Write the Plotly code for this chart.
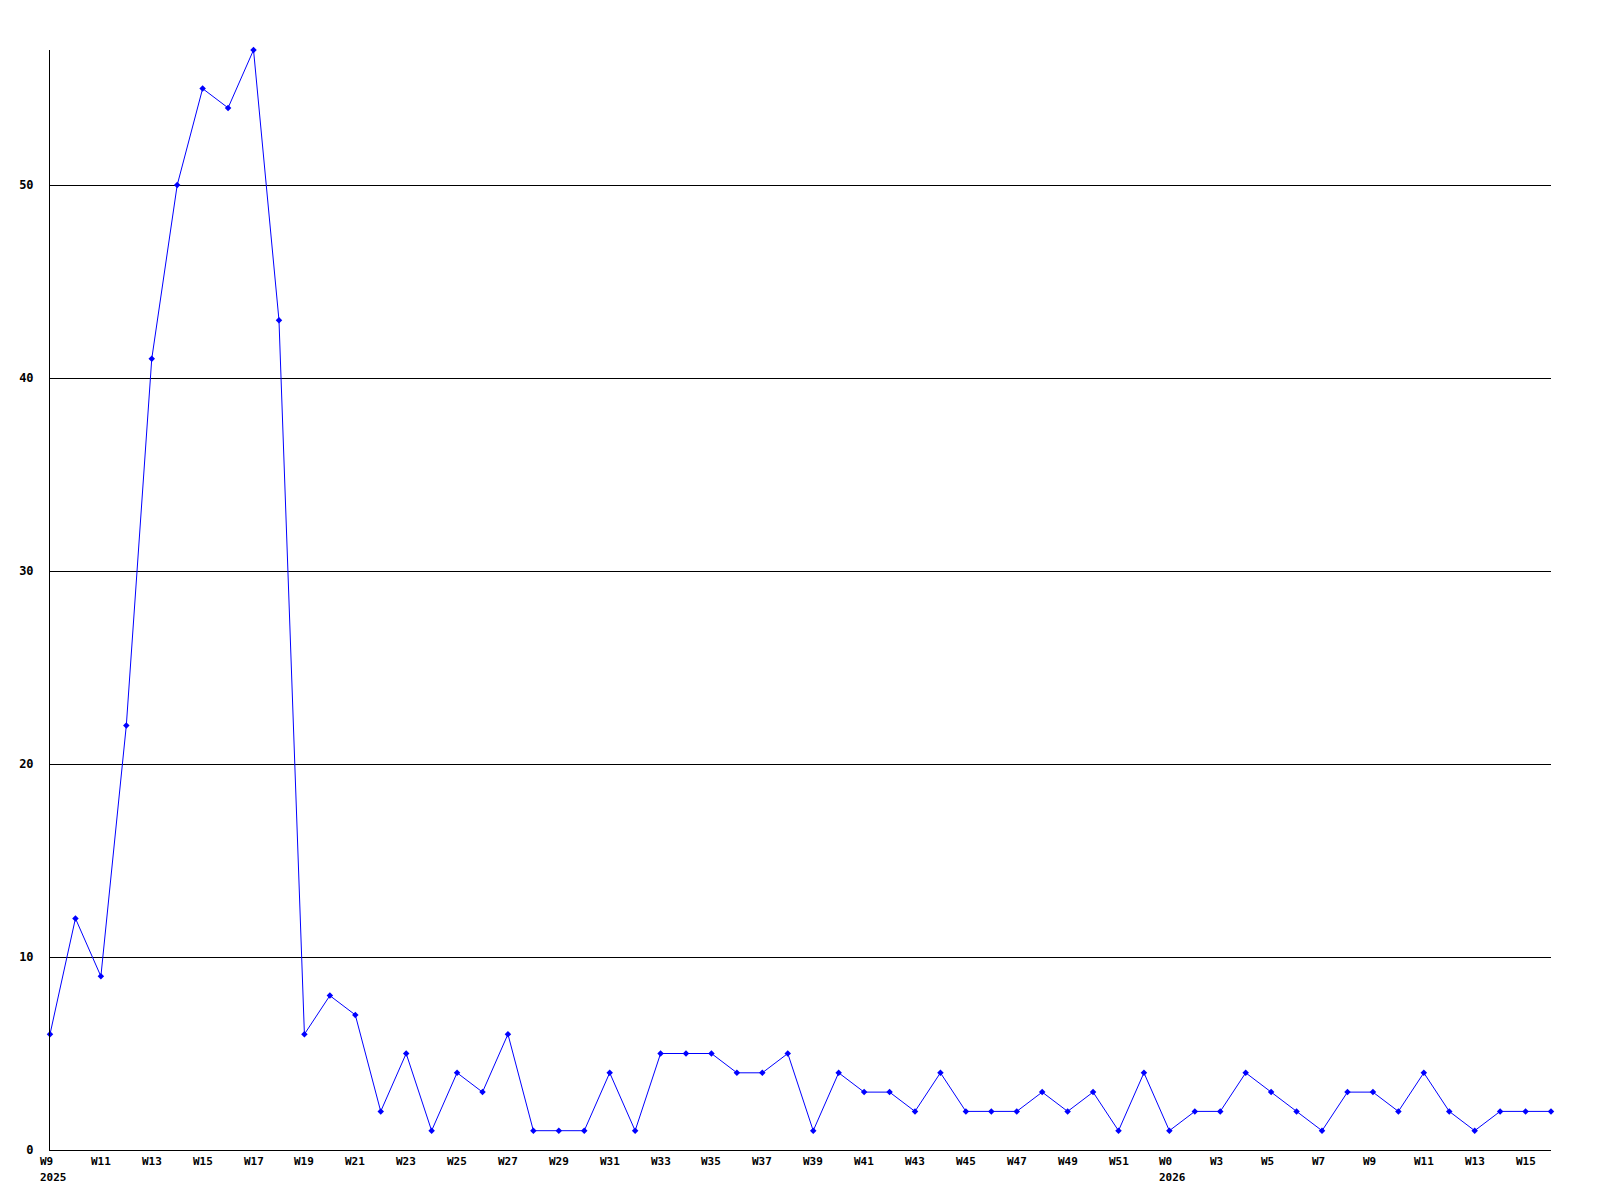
import plotly.graph_objects as go

values = [6, 12, 9, 22, 41, 50, 55, 54, 57, 43,
          6, 8, 7, 2, 5, 1, 4, 3, 6, 1,
          1, 1, 4, 1, 5, 5, 5, 4, 4, 5,
          1, 4, 3, 3, 2, 4, 2, 2, 2, 3,
          2, 3, 1, 4, 1, 2, 2, 4, 3, 2,
          1, 3, 3, 2, 4, 2, 1, 2, 2, 2]

tick_labels = ["W9", "W11", "W13", "W15", "W17", "W19", "W21", "W23", "W25", "W27",
               "W29", "W31", "W33", "W35", "W37", "W39", "W41", "W43", "W45", "W47",
               "W49", "W51", "W0", "W3", "W5", "W7", "W9", "W11", "W13", "W15"]
year_labels = {"2025": 0, "2026": 44}
y_ticks = [0, 10, 20, 30, 40, 50]

x = list(range(len(values)))
tick_pos = list(range(0, len(values), 2))

FONT = "DejaVu Sans Mono"
fig = go.Figure()
fig.add_trace(go.Scatter(
    x=x, y=values, mode="lines+markers",
    line=dict(color="#0000ff", width=1),
    marker=dict(color="#0000ff", symbol="diamond", size=5),
    cliponaxis=False, hoverinfo="skip",
))

annotations = []
for p, t in zip(tick_pos, tick_labels):
    annotations.append(dict(x=p, y=0, xref="x", yref="paper", text="<b>%s</b>" % t,
                            showarrow=False, xanchor="left", yanchor="top",
                            xshift=-11, yshift=-4, borderpad=0,
                            font=dict(family=FONT, size=11, color="black")))
for t, p in year_labels.items():
    annotations.append(dict(x=p, y=0, xref="x", yref="paper", text="<b>%s</b>" % t,
                            showarrow=False, xanchor="left", yanchor="top",
                            xshift=-11, yshift=-20, borderpad=0,
                            font=dict(family=FONT, size=11, color="black")))

fig.update_layout(
    width=1584, height=1184,
    margin=dict(l=42, r=41, t=42, b=42, autoexpand=False),
    paper_bgcolor="white", plot_bgcolor="white",
    showlegend=False,
    annotations=annotations,
    xaxis=dict(range=[0, len(values) - 1], showgrid=False, zeroline=False,
               showticklabels=False, showline=True, linecolor="black", linewidth=1,
               ticks="", automargin=False),
    yaxis=dict(range=[0, max(values)], tickvals=y_ticks,
               ticktext=["<b>%d</b>" % v for v in y_ticks],
               showgrid=True, gridcolor="black", gridwidth=1, zeroline=False,
               showline=True, linecolor="black", linewidth=1, ticks="",
               ticklabelstandoff=13, automargin=False,
               tickfont=dict(family=FONT, size=12, color="black")),
)
fig.write_html("out.html")
